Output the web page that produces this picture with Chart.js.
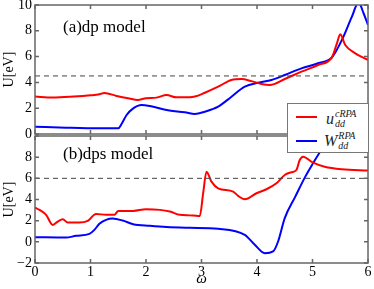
<!DOCTYPE html>
<html><head><meta charset="utf-8">
<script src="https://cdn.jsdelivr.net/npm/chart.js@4.4.0/dist/chart.umd.min.js"></script>
<style>
html,body{margin:0;padding:0;background:#fff;}
#wrap{position:relative;width:374px;height:289px;overflow:hidden;background:#fff;}
canvas{position:absolute;left:0;top:0;}
.lbl{position:absolute;font-family:"Liberation Serif","DejaVu Serif",serif;color:#000;white-space:nowrap;line-height:1;}
#legend{position:absolute;left:287px;top:103px;width:82px;height:50px;background:#fff;border:1px solid #777;box-sizing:border-box;}
.sw{position:absolute;left:8px;width:21px;height:2px;}
.ent{position:absolute;left:38px;font-family:"Liberation Serif",serif;font-style:italic;line-height:1;white-space:nowrap;color:#222;}
.big{font-size:16px;display:inline-block;vertical-align:middle;}
.ss{display:inline-block;vertical-align:middle;font-size:10px;line-height:10px;margin-left:1px;}
.ss span{display:block;}
</style>
</head><body>
<div id="wrap">
<canvas id="c1" width="374" height="289"></canvas>
<canvas id="c2" width="374" height="289"></canvas>
<div class="lbl" style="left:63px;top:18px;font-size:17px;">(a)dp model</div>
<div class="lbl" style="left:63px;top:145px;font-size:17px;">(b)dps model</div>
<div id="legend">
  <div class="sw" style="top:12px;background:#ff0000;"></div>
  <div class="ent" style="top:5px;"><span class="big">u</span><span class="ss"><span>cRPA</span><span>dd</span></span></div>
  <div class="sw" style="top:36px;background:#0000ff;"></div>
  <div class="ent" style="top:27px;left:36px;"><span class="big">W</span><span class="ss"><span>RPA</span><span>dd</span></span></div>
</div>
</div>
<script>
// ---- data ----
const xTicks = [0,1,2,3,4,5,6];
const topYTicks = [0,2,4,6,8,10];
const bottomYTicks = [-2,0,2,4,6,8,10];

const topOmegaU = [0,0.32,0.7,1.0,1.16,1.25,1.47,1.7,1.85,2.0,2.19,2.37,2.55,2.79,2.88,3.06,3.3,3.54,3.72,3.9,4.08,4.23,4.5,4.8,5.1,5.35,5.44,5.5,5.59,5.77,6.0];
const topU = [2.9,2.82,2.9,3.0,3.08,3.18,2.95,2.75,2.64,2.77,2.82,3.02,2.84,2.84,2.9,3.2,3.67,4.19,4.26,4.1,3.88,3.8,4.26,4.83,5.35,5.94,7.03,7.73,6.9,6.25,5.74];

const topOmegaW = [0,0.56,1.16,1.5,1.56,1.65,1.77,1.92,2.07,2.37,2.7,2.88,3.06,3.3,3.54,3.78,4.02,4.26,4.5,4.8,5.1,5.35,5.53,5.71,5.83,5.92,6.0];
const topW = [0.57,0.49,0.44,0.44,0.78,1.47,1.99,2.25,2.17,1.86,1.68,1.55,1.73,2.12,2.89,3.67,3.98,4.19,4.57,5.09,5.48,5.94,7.29,9.1,10.2,9.36,8.45];

const botOmegaU = [0,0.08,0.2,0.32,0.41,0.5,0.59,0.8,0.95,1.1,1.28,1.43,1.5,1.77,2.0,2.25,2.43,2.61,2.79,2.94,2.97,3.03,3.09,3.18,3.3,3.57,3.66,3.78,3.99,4.17,4.35,4.5,4.62,4.71,4.77,4.83,5.01,5.22,5.53,6.0];
const botU = [3.24,3.02,2.55,1.6,1.92,2.14,1.82,1.82,1.98,2.64,2.55,2.55,2.92,2.92,3.08,3.02,2.86,2.55,2.5,2.45,2.45,4.6,6.63,5.69,5.06,4.75,4.34,4.03,4.59,4.97,5.53,6.32,6.57,6.79,7.73,8.05,7.48,7.1,6.86,6.73];

const botOmegaW = [0,0.56,0.74,0.98,1.07,1.16,1.28,1.4,1.58,1.77,2.07,2.37,2.79,3.3,3.78,3.96,4.14,4.29,4.38,4.5,4.69,4.87,5.01,5.16,5.3,5.45];
const botW = [0.44,0.4,0.57,0.75,1.13,1.7,2.08,2.2,2.01,1.67,1.51,1.39,1.32,1.23,0.66,-0.28,-1.07,-0.91,0.03,2.24,4.27,6.16,7.42,8.68,9.5,10.2];

const topRef = 4.5;
const botRef = 6.0;

// ---- helpers ----
const pts = (xs, ys) => xs.map((x,i)=>({x:x,y:ys[i]}));
const FONT = '"Liberation Serif", serif';

const framePlugin = {
  id:'frame',
  afterDatasetsDraw(chart){
    const {ctx, chartArea:a, scales} = chart;
    ctx.save();
    ctx.strokeStyle = '#666';
    ctx.lineWidth = 1.5;
    ctx.beginPath();
    scales.y.ticks.forEach(t=>{
      const y = scales.y.getPixelForValue(t.value);
      ctx.moveTo(a.left, y); ctx.lineTo(a.left+4, y);
      ctx.moveTo(a.right, y); ctx.lineTo(a.right-4, y);
    });
    xTicks.forEach(v=>{
      const x = scales.x.getPixelForValue(v);
      ctx.moveTo(x, a.bottom); ctx.lineTo(x, a.bottom-4);
      ctx.moveTo(x, a.top); ctx.lineTo(x, a.top+4);
    });
    ctx.stroke();
    ctx.strokeRect(a.left, a.top, a.right-a.left, a.bottom-a.top);
    ctx.restore();
  }
};

function makeChart(id, cfg){
  return new Chart(document.getElementById(id), {
    type:'line',
    data:{datasets:[
      {data:pts([0,6],[cfg.ref,cfg.ref]), borderColor:'#444', borderWidth:1, borderDash:[5,4], pointRadius:0, tension:0},
      {data:pts(cfg.ox, cfg.u), borderColor:'#ff0000', borderWidth:2, pointRadius:0, cubicInterpolationMode:'monotone'},
      {data:pts(cfg.wx, cfg.w), borderColor:'#0000ff', borderWidth:2, pointRadius:0, cubicInterpolationMode:'monotone'}
    ]},
    options:{
      responsive:false, animation:false, devicePixelRatio:1,
      layout:{padding:cfg.pad},
      plugins:{legend:{display:false}, tooltip:{enabled:false}},
      scales:{
        x:{type:'linear', min:0, max:6, display:cfg.showX,
           grid:{display:false, drawTicks:false},
           border:{display:false},
           afterBuildTicks(s){ s.ticks = xTicks.map(v=>({value:v})); },
           afterFit(s){ if(cfg.showX){ s.height = 26; s.paddingLeft = 0; s.paddingRight = 0; } },
           ticks:{color:'#000', padding:1, font:{family:FONT, size:14}},
           title:{display:true, text:'ω', color:'#000', padding:{top:0,bottom:1}, font:{family:FONT, size:15, style:'italic'}}
        },
        y:{type:'linear', min:cfg.ymin, max:cfg.ymax,
           grid:{display:false, drawTicks:false},
           border:{display:false},
           afterBuildTicks(s){ s.ticks = cfg.yt.map(v=>({value:v})); },
           afterFit(s){ s.width = 35; s.paddingTop = 0; s.paddingBottom = 0; },
           ticks:{color:'#000', padding:3, font:{family:FONT, size:14},
                  callback:(v)=> (cfg.hideTop && v===cfg.ymax) ? '' : (v<0 ? '\u2212'+Math.abs(v) : String(v))},
           title:{display:true, text:'U[eV]', color:'#000', padding:{top:1,bottom:0}, font:{family:FONT, size:14}}
        }
      }
    },
    plugins:[framePlugin]
  });
}

makeChart('c1', {ref:topRef, ox:topOmegaU, u:topU, wx:topOmegaW, w:topW,
  pad:{left:0,right:6,top:5,bottom:155}, showX:false, ymin:0, ymax:10, yt:topYTicks, hideTop:false});
makeChart('c2', {ref:botRef, ox:botOmegaU, u:botU, wx:botOmegaW, w:botW,
  pad:{left:0,right:6,top:136,bottom:0}, showX:true, ymin:-2, ymax:10, yt:bottomYTicks, hideTop:true});
</script>
</body></html>
